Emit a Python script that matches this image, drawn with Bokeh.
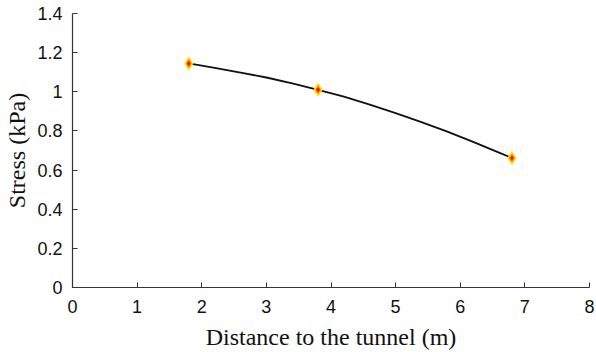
from bokeh.plotting import figure
from bokeh.models import FixedTicker, Range1d
from bokeh.embed import file_html
from bokeh.resources import INLINE

# measured points
point_x = [1.8, 3.8, 6.8]
point_y = [1.145, 1.01, 0.662]

# fitted curve
curve_x = [1.8, 2.2, 2.6, 3.0, 3.4, 3.8, 4.2, 4.6, 5.0, 5.4, 5.8, 6.2, 6.6, 6.8]
curve_y = [1.145, 1.122, 1.098, 1.073, 1.043, 1.010, 0.975, 0.934, 0.891, 0.845, 0.796, 0.744, 0.689, 0.662]

x_ticks = [0, 1, 2, 3, 4, 5, 6, 7, 8]
y_ticks = [0, 0.2, 0.4, 0.6, 0.8, 1.0, 1.2, 1.4]
y_tick_labels = ["0", "0.2", "0.4", "0.6", "0.8", "1", "1.2", "1.4"]

p = figure(width=596, height=352, output_backend="svg", toolbar_location=None,
           x_range=Range1d(0, 8), y_range=Range1d(0, 1.4),
           min_border_left=72, min_border_right=7, min_border_top=13, min_border_bottom=65)
p.outline_line_color = None
p.grid.visible = False
p.background_fill_color = "white"
p.border_fill_color = "white"

for ax in (p.xaxis[0], p.yaxis[0]):
    ax.axis_line_color = "#333333"
    ax.axis_line_width = 1.2
    ax.major_tick_line_color = "#333333"
    ax.major_tick_in = 5
    ax.major_tick_out = 0
    ax.minor_tick_line_color = None
    ax.major_label_text_font = "Liberation Sans"
    ax.major_label_text_font_size = "18px"
    ax.major_label_text_color = "#111111"
    ax.axis_label_text_font = "Liberation Serif"
    ax.axis_label_text_font_style = "normal"
    ax.axis_label_text_font_size = "24px"
    ax.axis_label_text_color = "#111111"

p.xaxis.ticker = FixedTicker(ticks=x_ticks)
p.yaxis.ticker = FixedTicker(ticks=y_ticks)
p.yaxis.major_label_overrides = {t: l for t, l in zip(y_ticks, y_tick_labels)}
p.xaxis.major_label_standoff = 12
p.yaxis.major_label_standoff = 10
p.xaxis.axis_label = "Distance to the tunnel (m)"
p.yaxis.axis_label = "Stress (kPa)"
p.xaxis.axis_label_standoff = 8
p.yaxis.axis_label_standoff = 4

p.line(curve_x, curve_y, line_color="#111111", line_width=1.8)
p.scatter(point_x, point_y, marker="diamond", size=14, fill_color="#ffe000", line_color=None)
p.scatter(point_x, point_y, marker="diamond", size=9, fill_color="#ff8000", line_color=None)
p.scatter(point_x, point_y, marker="diamond", size=5, fill_color="#e01010", line_color=None)

open("out.html", "w").write(file_html(p, INLINE))
